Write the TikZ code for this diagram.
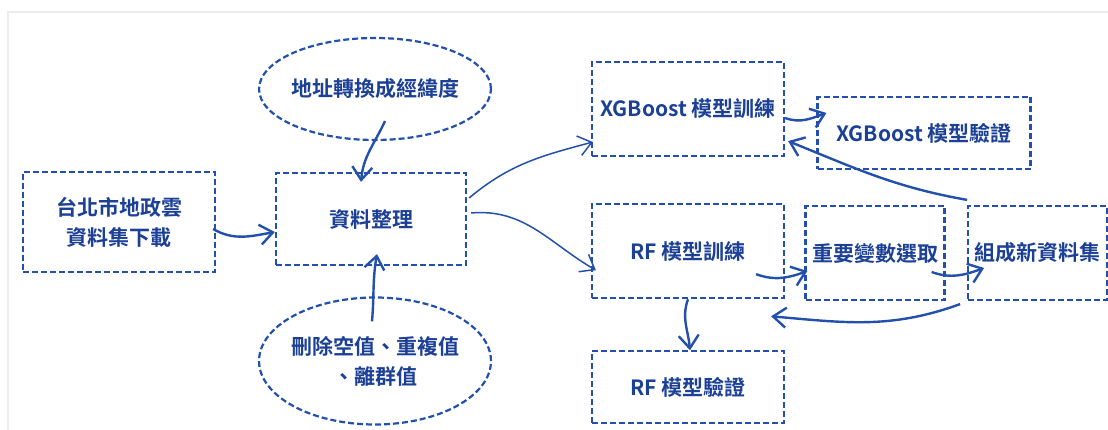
\documentclass[tikz,border=0pt]{standalone}
\usepackage{fontspec}
\setmainfont{Noto Sans CJK TC}[BoldFont={Noto Sans CJK TC Bold}]
\usetikzlibrary{positioning,arrows.meta,shapes.geometric}
\definecolor{lineblue}{RGB}{34,80,172}
\definecolor{textblue}{RGB}{28,64,150}

\begin{document}
\begin{tikzpicture}[
    x=1pt, y=1pt,
    node distance=22pt,
    box/.style={draw=lineblue, line width=2.2pt, dash pattern=on 6pt off 3pt, inner sep=0pt, align=center, text=textblue, font=\bfseries\fontsize{21}{30}\selectfont},
    oval/.style={box, ellipse, inner sep=-2pt},
    arr/.style={-{Straight Barb[length=13pt,width=20pt]}, line width=2.4pt, draw=lineblue},
    thinarr/.style={arr, line width=1.5pt}
]
\useasboundingbox (0,0) rectangle (1108,430);
\draw[gray!15, line width=1.5pt] (8,0) -- (8,418) -- (1108,418);
\node[box, minimum width=192pt, minimum height=100pt] (src) at (119,208) {台北市地政雲\\資料集下載};
\node[box, minimum width=190pt, minimum height=92pt] (prep) at (371,211) {資料整理};
\node[oval, minimum width=229pt, minimum height=102pt] (geo) at (375,341) {地址轉換成經緯度};
\node[oval, minimum width=229pt, minimum height=127pt] (clean) at (375,69) {刪除空值、重複值\\、離群值};
\node[box, minimum width=192pt, minimum height=94pt] (xgbtrain) at (688,321) {XGBoost 模型訓練};
\node[box, minimum width=213pt, minimum height=72pt] (xgbver) at (924,297) {XGBoost 模型驗證};
\node[box, minimum width=192pt, minimum height=94pt, below=46pt of xgbtrain] (rftrain) {RF 模型訓練};
\node[box, minimum width=192pt, minimum height=72pt, below=51pt of rftrain] (rfver) {RF 模型驗證};
\node[box, minimum width=139pt, minimum height=94pt] (sel) at (875,177) {重要變數選取};
\node[box, minimum width=139pt, minimum height=94pt, right=21.5pt of sel] (newset) {組成新資料集};
\draw[arr] ([xshift=-3pt,yshift=-7pt]src.east) to[out=-30,in=190] ([yshift=-13pt]prep.west);
\draw[arr] ([xshift=10pt,yshift=20pt]geo.south) to[out=245,in=85] ([xshift=-10pt,yshift=-10pt]prep.north);
\draw[arr] ([xshift=-3pt,yshift=-25pt]clean.north) to[out=85,in=-100] ([xshift=6pt,yshift=12pt]prep.south);
\draw[thinarr] ([xshift=2pt,yshift=21pt]prep.east) to[out=40,in=195] ([xshift=2pt,yshift=-33pt]xgbtrain.west);
\draw[thinarr] ([xshift=4pt,yshift=6pt]prep.east) to[out=5,in=150] ([xshift=5pt,yshift=-19pt]rftrain.west);
\draw[arr] ([yshift=-9pt]xgbtrain.east) to[out=-20,in=200] ([xshift=10pt,yshift=20pt]xgbver.west);
\draw[arr] ([yshift=5pt]newset.north west) to[out=170,in=-22] ([xshift=3pt,yshift=16pt]xgbtrain.south east);
\draw[arr] ([xshift=-29pt,yshift=-23pt]rftrain.east) to[out=-20,in=200] ([xshift=3pt,yshift=-18pt]sel.west);
\draw[arr] ([xshift=-14pt,yshift=-19pt]sel.east) to[out=-20,in=200] ([xshift=17pt,yshift=-15pt]newset.west);
\draw[arr] ([xshift=-7pt,yshift=-3pt]newset.south west) to[out=200,in=-5] ([xshift=-14pt,yshift=-17pt]rftrain.south east);
\draw[arr] (rftrain.south) to[out=250,in=95] ([xshift=2pt]rfver.north);
\end{tikzpicture}
\end{document}
